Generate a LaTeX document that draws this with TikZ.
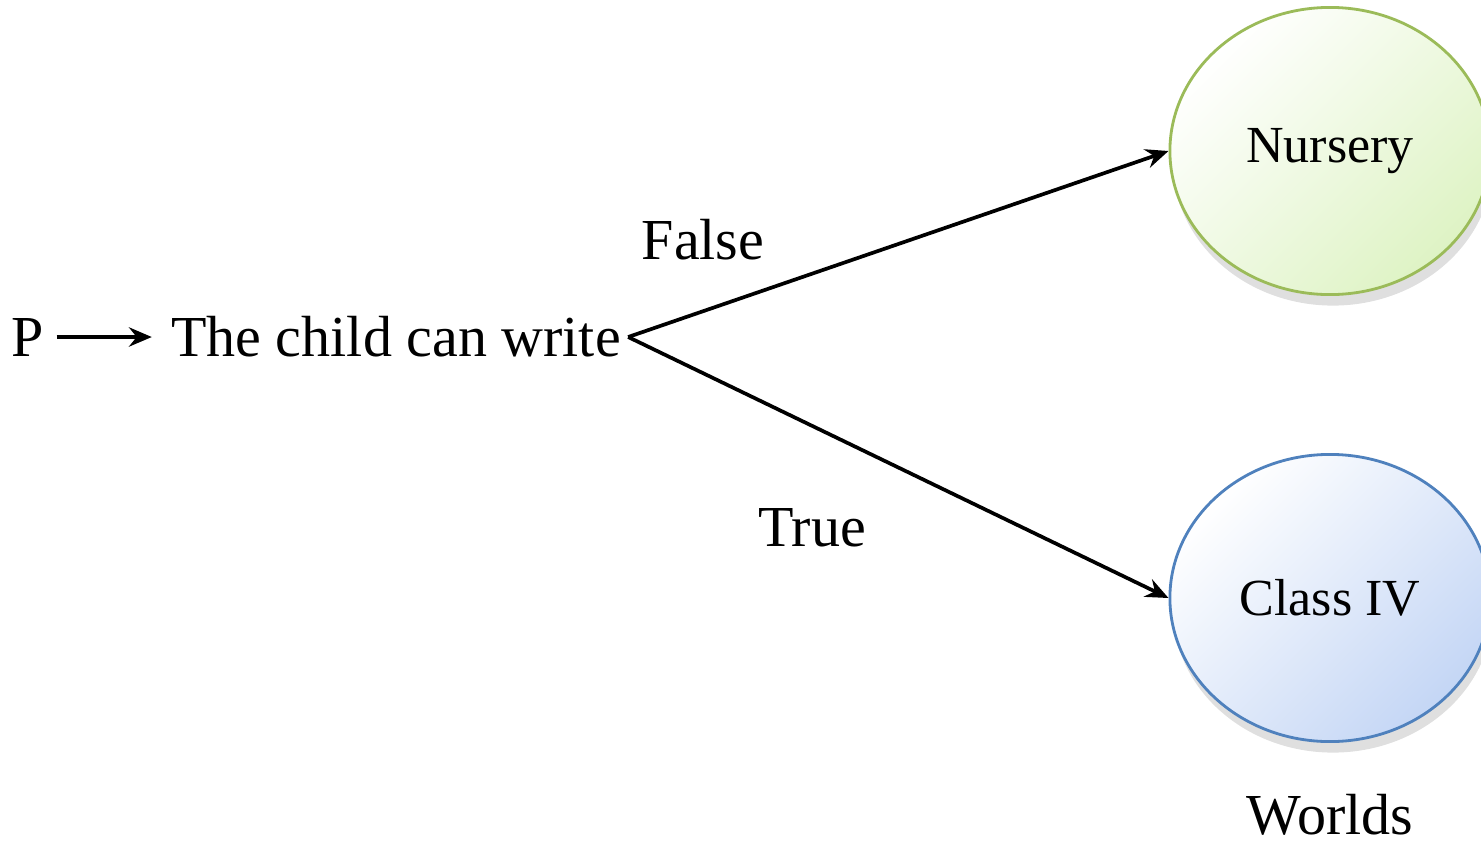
\documentclass[tikz,border=0pt]{standalone}
\usepackage{fontspec}
\setmainfont{Liberation Serif}
\usetikzlibrary{arrows.meta,shadows,shapes.geometric}

\definecolor{nurseryline}{RGB}{155,187,89}
\definecolor{nurseryfill}{RGB}{222,243,196}
\definecolor{classline}{RGB}{79,129,189}
\definecolor{classfill}{RGB}{196,214,245}

\tikzset{
    every node/.style={font=\fontsize{16.5}{20}\selectfont},
    world/.style={ellipse,draw,line width=0.8pt,minimum width=3.2cm,minimum height=2.87cm,inner sep=0pt,
        font=\fontsize{14.8}{18}\selectfont,
        drop shadow={opacity=0.25,shadow xshift=0.3mm,shadow yshift=-1.1mm}},
    link/.style={-{Stealth[length=6.5pt,width=5.5pt,inset=2.2pt]},line width=1.05pt},
}

\begin{document}
\begin{tikzpicture}[x=0.01cm,y=-0.01cm]
        \useasboundingbox (0,0) rectangle (1481,842);

        \node (p) at (28,337) {P};
        \node (child) at (396,337) {The child can write};
        \node[world,draw=nurseryline,top color=white,bottom color=nurseryfill,shading angle=45]
            (nursery) at (1330,151) {Nursery};
        \node[world,draw=classline,top color=white,bottom color=classfill,shading angle=45]
            (classiv) at (1330,598) {Class IV};

        \draw[link,shorten >=2pt] (p) -- (child);
        \draw[link] ([xshift=-0.5mm]child.east) -- (nursery.west);
        \draw[link] ([xshift=-0.5mm]child.east) -- (classiv.west);

        \node (false) at (703,240) {False};
        \node (true) at (812,528) {True};
        \node (worlds) at (1330,815) {Worlds};
    \end{tikzpicture}
\end{document}
